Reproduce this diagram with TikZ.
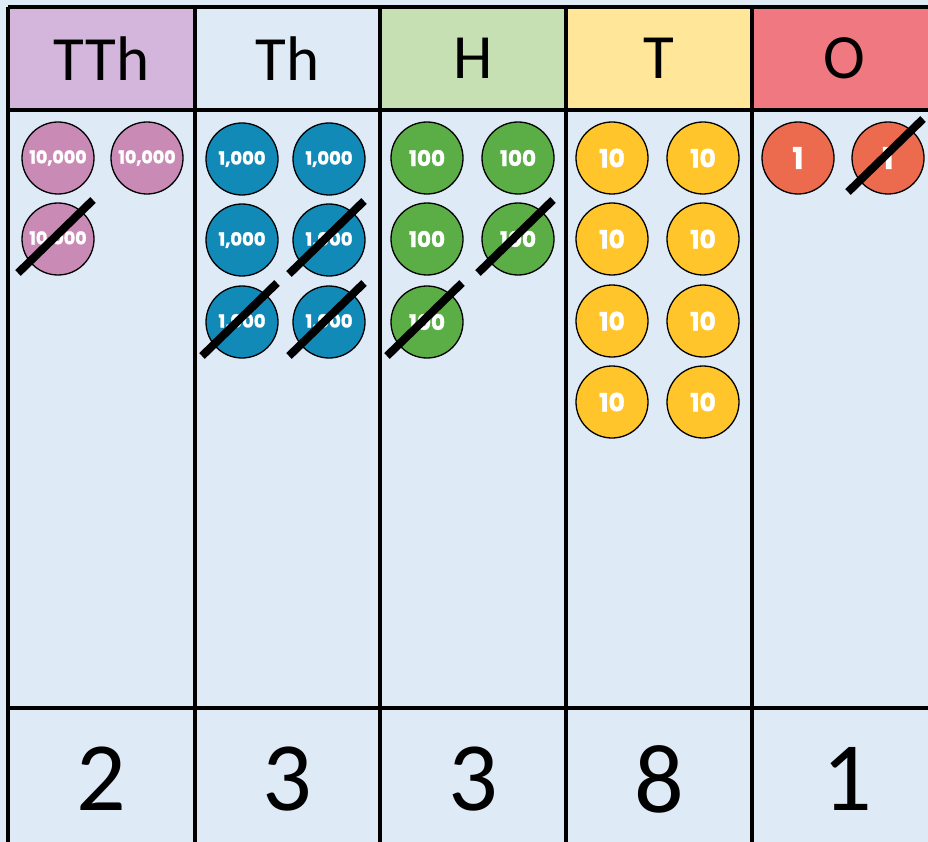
\documentclass[tikz,border=0pt]{standalone}
\usepackage{fontspec}
\setmainfont{Carlito}
\newfontfamily\cfont[BoldFeatures={FakeBold=1.6}]{Poppins}
\definecolor{bg}{HTML}{DEEAF6}
\definecolor{hTTh}{HTML}{D4B5DB}
\definecolor{hTh}{HTML}{DEEBF7}
\definecolor{hH}{HTML}{C6E0B4}
\definecolor{hT}{HTML}{FFE699}
\definecolor{hO}{HTML}{F07880}
\definecolor{cTTh}{HTML}{C98AB5}
\definecolor{cTh}{HTML}{128AB8}
\definecolor{cH}{HTML}{5BAD46}
\definecolor{cT}{HTML}{FFC52A}
\definecolor{cO}{HTML}{EC6A4E}
\tikzset{
  hdrcell/.style={draw=none, inner sep=0pt, minimum height=103pt, font=\fontsize{63}{70}\selectfont},
  numcell/.style={inner sep=0pt, font=\fontsize{98}{100}\selectfont},
  counter/.style={circle, draw=black, line width=1.3pt, minimum size=72pt, inner sep=0pt, text=white},
  cttth/.style={counter, fill=cTTh, font=\cfont\bfseries\fontsize{17.5}{18}\selectfont},
  ctth/.style={counter, fill=cTh, font=\cfont\bfseries\fontsize{18}{18}\selectfont},
  cth/.style={counter, fill=cH, font=\cfont\bfseries\fontsize{21.5}{22}\selectfont},
  ctt/.style={counter, fill=cT, font=\cfont\bfseries\fontsize{25}{25}\selectfont},
  cto/.style={counter, fill=cO, font=\cfont\bfseries\fontsize{30}{30}\selectfont},
  gridline/.style={line width=3.8pt, black},
  crossline/.style={line width=8pt, black}
}
\begin{document}
\begin{tikzpicture}[x=1pt,y=-1pt]
\useasboundingbox (0,0) rectangle (928,842);
\clip (0,0) rectangle (928,842);
\fill[bg] (0,0) rectangle (928,842);
% header cells
\node[hdrcell, fill=hTTh, minimum width=187pt] (hdrTTh) at (101.5,58.5) {TTh};
\node[hdrcell, fill=hTh, minimum width=185pt] (hdrTh) at (287.5,58.5) {Th};
\node[hdrcell, fill=hH, minimum width=186pt] (hdrH) at (473,58.5) {H};
\node[hdrcell, fill=hT, minimum width=186pt] (hdrT) at (659,58.5) {T};
\node[hdrcell, fill=hO, minimum width=188pt, text width=176pt, align=left] (hdrO) at (846,58.5) {\hspace*{65pt}O};
% grid
\draw[gridline] (8,7) -- (940,7);
\draw[gridline] (8,110) -- (940,110);
\draw[gridline] (8,708) -- (940,708);
\foreach \x in {8,195,380,566,752} \draw[gridline] (\x,7) -- (\x,850);
% place-value numbers
\node[numcell] (nTTh) at (101.5,779) {2};
\node[numcell] (nTh) at (287.5,779) {3};
\node[numcell] (nH) at (473,779) {3};
\node[numcell] (nT) at (659,779) {8};
\node[numcell] (nO) at (847,779) {1};
% counters TTh
\node[cttth] (tth1) at (58,158) {10,000};
\node[cttth] (tth2) at (147,158) {10,000};
\node[cttth] (tth3) at (58,239) {10,000};
% counters Th
\node[ctth] (th1) at (242,159) {1,000};
\node[ctth] (th2) at (329,159) {1,000};
\node[ctth] (th3) at (242,240) {1,000};
\node[ctth] (th4) at (329,240) {1,000};
\node[ctth] (th5) at (242,322) {1,000};
\node[ctth] (th6) at (329,322) {1,000};
% counters H
\node[cth] (h1) at (427,158) {100};
\node[cth] (h2) at (518,158) {100};
\node[cth] (h3) at (427,239) {100};
\node[cth] (h4) at (518,239) {100};
\node[cth] (h5) at (427,322) {100};
% counters T
\node[ctt] (t1) at (612,158) {10};
\node[ctt] (t2) at (703,158) {10};
\node[ctt] (t3) at (612,239) {10};
\node[ctt] (t4) at (703,239) {10};
\node[ctt] (t5) at (612,321) {10};
\node[ctt] (t6) at (703,321) {10};
\node[ctt] (t7) at (612,402) {10};
\node[ctt] (t8) at (703,402) {10};
% counters O
\node[cto] (o1) at (798,158) {1};
\node[cto] (o2) at (888,158) {1};
% crossing-out lines
\foreach \n in {tth3,th4,th5,th6,h4,h5,o2}
  \draw[crossline] ([shift={(-40,34)}]\n.center) -- ([shift={(35,-39)}]\n.center);
\end{tikzpicture}
\end{document}
